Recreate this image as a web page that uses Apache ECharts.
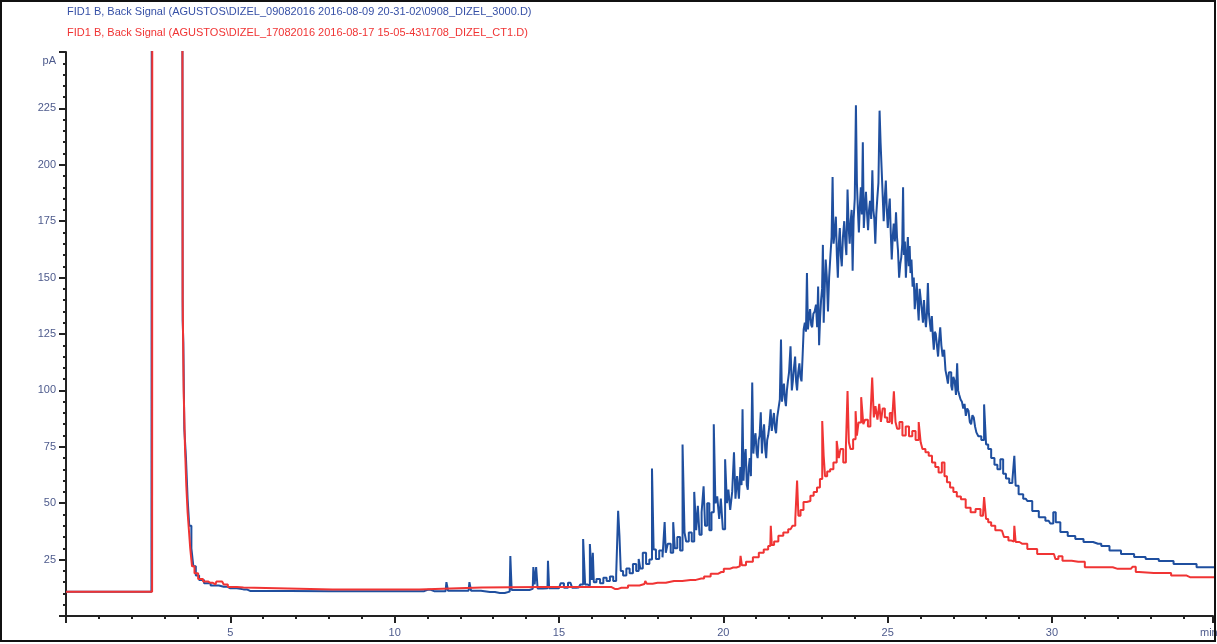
<!DOCTYPE html>
<html>
<head>
<meta charset="utf-8">
<script src="https://cdn.jsdelivr.net/npm/echarts@6/dist/echarts.min.js"></script>
<style>
html,body{margin:0;padding:0;background:#fff;}
#chart{width:1217px;height:644px;}
</style>
</head>
<body>
<div id="chart"></div>
<script>
// ---- data (time in min, signal in pA) ----
const titleBlue = 'FID1 B, Back Signal (AGUSTOS\\DIZEL_09082016 2016-08-09 20-31-02\\0908_DIZEL_3000.D)';
const titleRed  = 'FID1 B, Back Signal (AGUSTOS\\DIZEL_17082016 2016-08-17 15-05-43\\1708_DIZEL_CT1.D)';
const yUnit = 'pA';
const xUnit = 'min';

const blueSignal = [
[0,10.7],[2.6,10.7],[2.62,300],[3.54,300],[3.56,131],[3.58,121],[3.62,83],[3.68,70],[3.72,52],[3.78,40],[3.85,30],[3.9,22],[4.0,18],[4.1,16],[4.3,14.5],[4.5,13.5],[4.8,13],[5.0,12.3],[5.4,11.8],[5.6,11.1],[8.0,11.0],[10.8,11.0],[11.0,11.6],[11.2,11.0],[11.55,11.0],[11.6,15.0],[11.65,11.2],[12.25,11.2],[12.3,15.0],[12.35,11.2],[12.9,10.6],[13.2,10.2],[13.5,10.8],[13.54,26.6],[13.58,11.5],[14.0,11.5],[14.2,12],[14.24,21.7],[14.28,14],[14.33,21.7],[14.37,12.2],[14.65,12.3],[14.68,24.5],[14.72,12.3],[15.0,12.3],[15.1,14.5],[15.2,12.5],[15.35,14.7],[15.45,12.5],[15.6,12.6],[15.7,14],[15.77,34.1],[15.82,14],[15.9,13.5],[15.98,31.9],[16.02,16],[16.04,28],[16.08,15],[16.2,16.4],[16.3,14.5],[16.4,17],[16.5,15.5],[16.6,17.5],[16.7,15.5],[16.78,18],[16.82,46.6],[16.86,35.6],[16.9,20],[17.0,18],[17.1,21],[17.2,19],[17.3,23],[17.4,20],[17.45,25.3],[17.5,21],[17.6,28],[17.7,23],[17.8,25],[17.86,65.4],[17.9,29.5],[18.0,25.3],[18.1,29],[18.2,26],[18.23,41.6],[18.27,28],[18.35,32],[18.45,28],[18.5,41.6],[18.55,30],[18.65,35],[18.72,29],[18.8,76],[18.84,37],[18.9,33],[19.0,37],[19.08,33],[19.15,55],[19.2,38],[19.25,48.8],[19.3,36],[19.38,46],[19.42,57.5],[19.47,40],[19.55,50],[19.6,38],[19.68,46],[19.74,85],[19.78,50],[19.85,53],[19.9,43],[19.95,52],[20.02,38.5],[20.09,69.5],[20.13,50],[20.18,56],[20.24,47],[20.3,55],[20.35,72.6],[20.39,52],[20.45,62],
[20.50,52],[20.54,66],[20.57,58],[20.60,91.6],[20.63,60],[20.66,70],[20.70,74],[20.73,58],[20.76,56],[20.79,66],[20.82,70],[20.86,62],[20.90,103.5],[20.93,72],[20.96,78],[21.00,81],[21.03,72],[21.06,70],[21.09,78],[21.12,80],[21.16,90.3],[21.19,72],[21.22,80],[21.26,85],[21.29,74],[21.32,70],[21.35,78],[21.38,80],[21.42,84],[21.46,91.6],[21.49,82],[21.52,86],[21.56,90],[21.59,83],[21.62,81],[21.66,88],[21.70,92],[21.74,96],[21.77,122.6],[21.80,95],[21.83,100],[21.86,103],[21.89,96],[21.92,93],[21.95,100],[21.98,104],[22.02,108],[22.07,119.6],[22.10,100],[22.13,104],[22.17,110],[22.20,115],[22.23,104],[22.26,100],[22.30,108],[22.33,112],[22.36,106],[22.40,104],[22.43,116],[22.46,127],[22.50,130],[22.53,126],[22.56,152],[22.59,127],[22.62,132],[22.66,136],[22.69,129],[22.72,128],[22.76,134],[22.80,135],[22.84,138],[22.87,128],[22.90,146],[22.93,120],[22.96,132],[22.99,140],[23.02,145],[23.04,164.5],[23.07,130],[23.10,145],[23.13,158],[23.17,150],[23.20,135],[23.24,150],[23.28,160],[23.31,168],[23.34,194.6],[23.37,165],[23.41,170],[23.44,177],[23.47,160],[23.50,150],[23.53,165],[23.56,172],[23.59,160],[23.62,155],[23.66,168],[23.70,175],[23.73,165],[23.76,160],[23.80,189],[23.83,172],[23.86,165],[23.89,175],[23.92,180],[23.95,153],[23.98,176],[24.02,185],[24.05,226.4],[24.08,192],[24.11,180],[24.14,170],[24.17,182],[24.20,190],[24.23,178],[24.26,210],[24.29,172],[24.32,180],[24.36,188],[24.39,178],[24.42,171],[24.45,180],[24.48,184],[24.52,176],[24.55,197.6],[24.58,180],[24.61,176],[24.64,165],[24.67,178],[24.70,185],[24.74,192],[24.77,224],[24.80,210],[24.83,199],[24.86,188],[24.90,175],[24.93,186],[24.96,193],[24.99,180],[25.02,172],[25.05,180],[25.08,185],[25.11,170],[25.14,158],[25.17,168],[25.20,174],[25.24,166],[25.27,179],[25.30,168],[25.33,162],[25.37,150],[25.40,156],[25.43,159],[25.46,165],[25.48,190],[25.51,160],[25.54,166],[25.57,150],[25.60,160],[25.63,168],[25.66,155],[25.68,164],[25.71,152],[25.74,158],[25.78,146],[25.81,150],[25.84,136],[25.87,142],[25.90,147.6],[25.93,138],[25.96,131],[25.99,145],[26.03,140],[26.06,135],[26.09,130],[26.12,140],[26.15,133],[26.18,128],[26.21,134],[26.24,147.6],[26.27,134],[26.30,130],[26.33,126],[26.36,133],[26.39,124],[26.42,118],[26.45,126],[26.48,125],[26.52,120],[26.55,115],[26.58,122],[26.62,128],[26.65,120],[26.70,115],[26.74,118],[26.78,109],[26.82,106],[26.85,103],[26.88,108],[26.92,108],[26.95,102],[26.98,100],[27.02,106],[27.06,104],[27.10,98],[27.13,112],[27.16,100],[27.20,98],[27.24,96],[27.28,95],[27.32,92],[27.36,94],[27.40,88.7],[27.44,92],[27.48,91],[27.52,86],[27.56,85],[27.60,89],[27.64,88],[27.68,84],[27.72,81.4],
[27.8,79.7],[27.9,78],[27.97,93.8],[28.02,76],[28.1,74],[28.2,70],[28.3,67],[28.38,65],[28.48,69.5],[28.55,63],[28.65,61],[28.75,59],[28.84,60],[28.87,71],[28.92,57.7],[29.05,54],[29.2,52],[29.3,51],[29.5,46.5],[29.7,43.8],[29.9,42.2],[30.0,41],[30.08,46],[30.15,41.6],[30.36,37.2],[30.6,35.5],[30.82,34.1],[31.1,32.8],[31.4,32],[31.6,31],[31.9,29],[32.3,27.5],[32.7,26.2],[33.0,25.3],[33.5,24.4],[33.9,23],[34.2,23],[34.6,21.6],[35,21.6]
];

const redSignal = [
[0,10.7],[2.62,10.7],[2.63,300],[3.54,300],[3.56,140],[3.6,100],[3.64,75],[3.68,58],[3.72,46],[3.76,38],[3.8,30],[3.87,22],[3.95,19],[4.09,16.4],[4.25,15.3],[4.39,14.7],[4.55,14.0],[4.6,15.3],[4.75,15.3],[4.85,14.0],[5.0,12.9],[5.4,12.6],[5.46,11.8],[10.75,11.8],[10.8,12.6],[14.5,12.8],[16.5,12.8],[16.7,12.0],[16.9,12.5],[17.3,13.5],[17.6,14.2],[17.65,15.5],[17.7,14.3],[18.0,14.7],[18.5,15.5],[19.0,16],[19.33,16.6],[19.5,17.5],[19.73,18.7],[19.94,19.5],[20.09,20.9],[20.3,21.5],[20.5,22],[20.55,26.7],[20.58,22.5],[20.8,24],[21.0,26],[21.16,28],[21.3,29.5],[21.43,31],[21.46,40],[21.49,31.5],[21.6,33],[21.75,35.6],[21.9,37],[22.05,38.5],[22.16,40],[22.22,43],[22.27,60],[22.3,44.4],[22.4,47],[22.48,50.5],[22.6,51],[22.7,53.3],[22.8,55],[22.9,57],[22.98,60.7],[23.04,86.4],[23.07,70.8],[23.12,62],[23.2,64],[23.3,65],[23.4,68],[23.5,77.6],[23.53,70],[23.6,74],[23.7,68],[23.76,75],[23.8,99.7],[23.84,77],[23.9,74],[24.0,78.3],[24.05,90.8],[24.08,80],[24.15,85.8],[24.24,97],[24.28,85],[24.35,87],[24.45,84],[24.5,88],[24.56,105.7],[24.6,88],[24.66,93],[24.72,87],[24.77,94],[24.82,86],[24.88,92],[24.95,88],[25.03,86],[25.1,90],[25.16,85],[25.22,99.6],[25.26,86],[25.32,83],[25.4,86],[25.5,80],[25.6,84],[25.7,79.7],[25.8,82],[25.9,78],[25.99,86],[26.02,77],[26.1,74],[26.2,72.6],[26.3,71],[26.4,68],[26.5,66],[26.6,63.6],[26.7,68],[26.76,62],[26.85,59.3],[26.95,57],[27.05,55],[27.16,53],[27.3,51.7],[27.45,48],[27.6,46],[27.75,47.4],[27.9,44.4],[27.97,52.7],[28.02,43],[28.1,41.6],[28.2,40],[28.35,38],[28.48,37.8],[28.6,35],[28.75,33.5],[28.84,33],[28.87,40],[28.92,32.8],[29.1,32],[29.4,29.7],[29.7,27.5],[29.9,27.5],[30.06,27.5],[30.15,25.3],[30.24,26.5],[30.4,24.5],[30.8,24],[31.2,21.6],[31.7,21.6],[32.0,20.9],[32.4,20.9],[32.5,21.8],[32.6,19.5],[32.7,19.1],[33.5,19.1],[33.75,17.9],[34.1,17.9],[34.2,17.2],[35,17.2]
];

const xTickInterval = 5;
const yTickInterval = 25;

// ---- chart ----
const BLUE = '#1f4f9f';
const RED = '#f03434';
const LABEL = '#4d5a8c';
const FONT = '"Liberation Sans Narrow", "Liberation Sans", Arial, sans-serif';

const chart = echarts.init(document.getElementById('chart'));
chart.setOption({
  animation: false,
  backgroundColor: '#ffffff',
  grid: { left: 66, right: 4, top: 52, bottom: 28, containLabel: false },
  xAxis: {
    type: 'value', min: 0, max: 34.9, interval: xTickInterval,
    axisLine: { lineStyle: { color: '#222', width: 2 } },
    axisTick: { show: true, inside: false, length: 7, lineStyle: { color: '#222', width: 2 } },
    minorTick: { show: true, splitNumber: 5, length: 3, lineStyle: { color: '#222', width: 2 } },
    splitLine: { show: false },
    axisLabel: { color: LABEL, fontFamily: FONT, fontSize: 11, margin: 11, showMinLabel: false, showMaxLabel: false }
  },
  yAxis: {
    type: 'value', min: 0, max: 250, interval: yTickInterval,
    axisLine: { show: true, lineStyle: { color: '#222', width: 2 } },
    axisTick: { show: true, inside: false, length: 7, lineStyle: { color: '#222', width: 2 } },
    minorTick: { show: true, splitNumber: 5, length: 3, lineStyle: { color: '#222', width: 2 } },
    splitLine: { show: false },
    axisLabel: { color: LABEL, fontFamily: FONT, fontSize: 11, margin: 10, showMinLabel: false, showMaxLabel: false }
  },
  series: [
    { name: 'blue', type: 'line', step: 'middle', data: blueSignal, showSymbol: false, symbol: 'none', clip: true,
      lineStyle: { color: BLUE, width: 2 }, z: 2 },
    { name: 'red', type: 'line', step: 'middle', data: redSignal, showSymbol: false, symbol: 'none', clip: true,
      lineStyle: { color: RED, width: 2 }, z: 3 }
  ],
  graphic: [
    { type: 'text', left: 67, top: 6, style: { text: titleBlue, fill: '#3650a6', font: '11px ' + FONT } },
    { type: 'text', left: 67, top: 27, style: { text: titleRed, fill: RED, font: '11px ' + FONT } },
    { type: 'text', x: 56, y: 61, style: { text: yUnit, fill: LABEL, font: '11px ' + FONT, align: 'right', verticalAlign: 'middle' } },
    { type: 'text', x: 1200, y: 633, style: { text: xUnit, fill: LABEL, font: '11px ' + FONT, align: 'left', verticalAlign: 'middle' } },
    { type: 'rect', shape: { x: 1, y: 1, width: 1214, height: 640 }, style: { fill: 'none', stroke: '#111', lineWidth: 2 }, z: 100 }
  ]
});
</script>
</body>
</html>
